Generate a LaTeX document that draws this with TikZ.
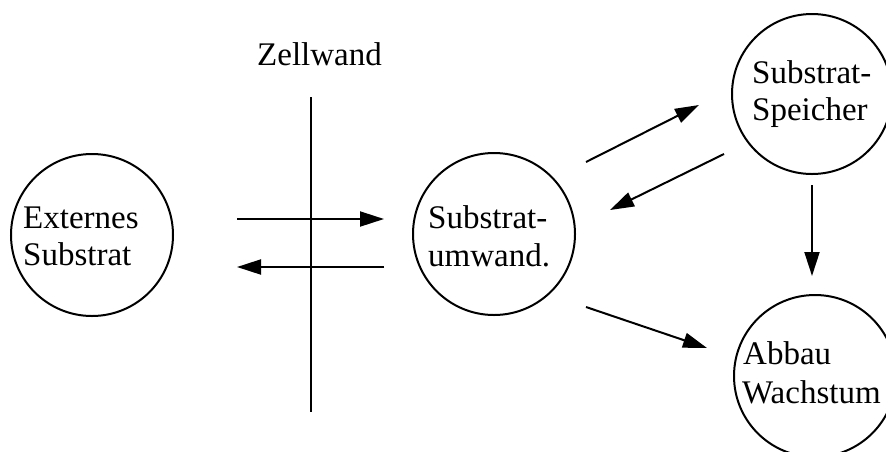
\documentclass[tikz,border=0pt]{standalone}
\usepackage{fontspec}
\setmainfont{Liberation Serif}
\usetikzlibrary{arrows.meta}
\begin{document}
\begin{tikzpicture}[x=1pt,y=-1pt,
  ring/.style={circle,draw,line width=2pt,minimum size=162pt,inner sep=0pt},
  lbl/.style={anchor=base west,inner sep=0pt,font=\fontsize{33}{38}\selectfont},
  arr/.style={line width=2pt,-{Triangle[length=24pt,width=15pt]}},
  wall/.style={line width=2pt}]
\useasboundingbox (0,0) rectangle (886,451);
\clip (0,0) rectangle (886,451);
% circles
\node[ring] (ext) at (92,235) {};
\node[ring] (umw) at (494,234) {};
\node[ring,minimum size=160pt] (spe) at (812,94) {};
\node[ring] (abb) at (815,376) {};
% labels
\node[lbl] (ext1) at (23,228) {Externes};
\node[lbl] (ext2) at (23,265) {Substrat};
\node[lbl] (umw1) at (428,228) {Substrat-};
\node[lbl] (umw2) at (428,266) {umwand.};
\node[lbl] (spe1) at (752,83) {Substrat-};
\node[lbl] (spe2) at (752,120) {Speicher};
\node[lbl] (abb1) at (743,364) {Abbau};
\node[lbl] (abb2) at (742,403) {Wachstum};
\node[lbl] (zw) at (257,65) {Zellwand};
% wall
\coordinate (wtop) at (311,97);
\coordinate (wbot) at (311,412);
\draw[wall] (wtop) -- (wbot);
% arrow end points
\coordinate (a1s) at (237,219); \coordinate (a1e) at (384,219);
\coordinate (a2s) at (384,267); \coordinate (a2e) at (237,267);
\coordinate (a3s) at (586,162); \coordinate (a3e) at (699,105);
\coordinate (a4s) at (724,154); \coordinate (a4e) at (610,210);
\coordinate (a5s) at (586,307); \coordinate (a5e) at (707,348);
\coordinate (a6s) at (812,185); \coordinate (a6e) at (812,276);
\draw[arr] (a1s) -- (a1e);
\draw[arr] (a2s) -- (a2e);
\draw[arr] (a3s) -- (a3e);
\draw[arr] (a4s) -- (a4e);
\draw[arr] (a5s) -- (a5e);
\draw[arr] (a6s) -- (a6e);
\end{tikzpicture}
\end{document}
